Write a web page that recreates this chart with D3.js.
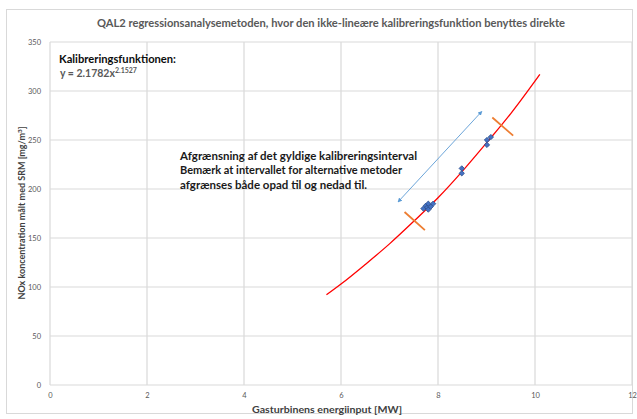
<!DOCTYPE html>
<html>
<head>
<meta charset="utf-8">
<script src="https://cdn.jsdelivr.net/npm/d3@7"></script>
<style>
  body { margin: 0; background: #fff; }
  svg { display: block; font-family: Lato, "Open Sans", sans-serif; }
</style>
</head>
<body>
<svg id="chart" width="637" height="419"></svg>
<script>
// Measured points (energy input MW, NOx mg/m3)
const pointX = [7.70, 7.75, 7.78, 7.80, 7.80, 7.85, 7.90, 8.49, 8.49, 9.01, 9.01, 9.09];
const pointY = [180, 183, 181, 185, 179, 182, 185, 221, 216, 250, 245, 253];

// Calibration curve
const curveX = [5.7, 6.0, 6.5, 7.0, 7.5, 8.0, 8.5, 9.0, 9.5, 10.1];
const curveY = [92, 103, 123, 144, 167, 191, 218, 247, 277, 317];

// Interval limits (orange marks): [x1, y1, x2, y2]
const limitLow = [7.31, 176.5, 7.73, 158];
const limitHigh = [9.12, 273, 9.55, 254.5];

// Double arrow along the interval
const arrowLine = [7.18, 187, 8.90, 279];

const xTicks = [0, 2, 4, 6, 8, 10, 12];
const yTicks = [0, 50, 100, 150, 200, 250, 300, 350];

const noteLines = [
    'Afgrænsning af det gyldige kalibreringsinterval',
    'Bemærk at intervallet for alternative metoder',
    'afgrænses både opad til og nedad til.'
];

const margin = { top: 42, right: 5, bottom: 34, left: 50 };
const width = 637, height = 419;

const svg = d3.select('#chart');

// Chart border
svg.append('rect')
    .attr('x', 6.5).attr('y', 9.5)
    .attr('width', 626).attr('height', 404)
    .attr('fill', 'none')
    .attr('stroke', '#d9d9d9');

const xScale = d3.scaleLinear().domain([0, 12]).range([margin.left, width - margin.right]);
const yScale = d3.scaleLinear().domain([0, 350]).range([height - margin.bottom, margin.top]);

// Gridlines
svg.append('g')
    .selectAll('line')
    .data(xTicks)
    .join('line')
    .attr('x1', d => xScale(d)).attr('x2', d => xScale(d))
    .attr('y1', yScale(0)).attr('y2', yScale(350))
    .attr('stroke', '#d9d9d9').attr('stroke-width', 1.2);

svg.append('g')
    .selectAll('line')
    .data(yTicks)
    .join('line')
    .attr('x1', xScale(0)).attr('x2', xScale(12))
    .attr('y1', d => yScale(d)).attr('y2', d => yScale(d))
    .attr('stroke', '#d9d9d9').attr('stroke-width', 1.2);

// Axes (labels only)
const xAxis = svg.append('g')
    .attr('transform', `translate(0, ${yScale(0)})`)
    .call(d3.axisBottom(xScale).tickValues(xTicks).tickSize(0).tickPadding(8));
const yAxis = svg.append('g')
    .attr('transform', `translate(${xScale(0)}, 0)`)
    .call(d3.axisLeft(yScale).tickValues(yTicks).tickSize(0).tickPadding(9));

[xAxis, yAxis].forEach(ax => {
    ax.select('.domain').remove();
    ax.selectAll('text')
        .attr('fill', '#595959')
        .style('font-family', 'Lato, sans-serif')
        .style('font-size', '7.5px');
});

// Title
svg.append('text')
    .attr('x', 331).attr('y', 27)
    .attr('text-anchor', 'middle')
    .attr('fill', '#595959')
    .style('font-size', '10.5px')
    .style('font-weight', 'bold')
    .attr('textLength', 468)
    .attr('lengthAdjust', 'spacingAndGlyphs')
    .text('QAL2 regressionsanalysemetoden, hvor den ikke-lineære kalibreringsfunktion benyttes direkte');

// Axis titles
svg.append('text')
    .attr('x', 327).attr('y', 413)
    .attr('text-anchor', 'middle')
    .attr('fill', '#404040')
    .style('font-size', '8.5px')
    .style('font-weight', 'bold')
    .attr('textLength', 150)
    .attr('lengthAdjust', 'spacingAndGlyphs')
    .text('Gasturbinens energiinput [MW]');

const yTitle = svg.append('text')
    .attr('transform', 'translate(25, 213) rotate(-90)')
    .attr('text-anchor', 'middle')
    .attr('fill', '#404040')
    .style('font-size', '8.5px')
    .style('font-weight', 'bold')
    .attr('textLength', 173)
    .attr('lengthAdjust', 'spacingAndGlyphs');
yTitle.append('tspan').text('NOx koncentration målt med SRM  [mg/m');
yTitle.append('tspan').attr('dy', -3).style('font-size', '6px').text('3');
yTitle.append('tspan').attr('dy', 3).text(']');

// Curve
const curveData = curveX.map((x, i) => [x, curveY[i]]);
svg.append('path')
    .datum(curveData)
    .attr('fill', 'none')
    .attr('stroke', '#ff0000')
    .attr('stroke-width', 1.3)
    .attr('d', d3.line()
        .x(d => xScale(d[0]))
        .y(d => yScale(d[1]))
        .curve(d3.curveMonotoneX));

// Interval limits
[limitLow, limitHigh].forEach(l => {
    svg.append('line')
        .attr('x1', xScale(l[0])).attr('y1', yScale(l[1]))
        .attr('x2', xScale(l[2])).attr('y2', yScale(l[3]))
        .attr('stroke', '#ed7d31')
        .attr('stroke-width', 1.8);
});

// Arrow marker
svg.append('defs').append('marker')
    .attr('id', 'arrow')
    .attr('viewBox', '0 0 10 10')
    .attr('refX', 8).attr('refY', 5)
    .attr('markerWidth', 5).attr('markerHeight', 5)
    .attr('orient', 'auto-start-reverse')
    .append('path')
    .attr('d', 'M0,0 L10,5 L0,10 Z')
    .attr('fill', '#5b9bd5');

svg.append('line')
    .attr('x1', xScale(arrowLine[0])).attr('y1', yScale(arrowLine[1]))
    .attr('x2', xScale(arrowLine[2])).attr('y2', yScale(arrowLine[3]))
    .attr('stroke', '#5b9bd5')
    .attr('stroke-width', 0.9)
    .attr('marker-start', 'url(#arrow)')
    .attr('marker-end', 'url(#arrow)');

// Measured points (square turned 45 degrees)
svg.append('g')
    .selectAll('path')
    .data(pointX.map((x, i) => [x, pointY[i]]))
    .join('path')
    .attr('transform', d => `translate(${xScale(d[0])}, ${yScale(d[1])}) rotate(45)`)
    .attr('d', d3.symbol().type(d3.symbolSquare).size(14))
    .attr('fill', '#4472c4')
    .attr('stroke', '#2f528f')
    .attr('stroke-width', 0.8);

// Calibration function label
svg.append('text')
    .attr('x', 59).attr('y', 63)
    .attr('fill', '#0d0d0d')
    .style('font-size', '10.5px')
    .style('font-weight', 'bold')
    .attr('textLength', 117)
    .attr('lengthAdjust', 'spacingAndGlyphs')
    .text('Kalibreringsfunktionen:');

const eq = svg.append('text')
    .attr('x', 60).attr('y', 77)
    .attr('fill', '#595959')
    .style('font-size', '10.5px')
    .style('font-weight', 'bold');
eq.append('tspan').text('y = 2.1782x');
eq.append('tspan').attr('dy', -4).style('font-size', '7px').text('2.1527');

// Interval note
const noteWidths = [237, 222, 187];
svg.append('g')
    .selectAll('text')
    .data(noteLines)
    .join('text')
    .attr('x', 180)
    .attr('y', (d, i) => 160 + i * 14.3)
    .attr('fill', '#1a1a1a')
    .style('font-size', '10.5px')
    .style('font-weight', 'bold')
    .attr('textLength', (d, i) => noteWidths[i])
    .attr('lengthAdjust', 'spacingAndGlyphs')
    .text(d => d);
</script>
</body>
</html>
